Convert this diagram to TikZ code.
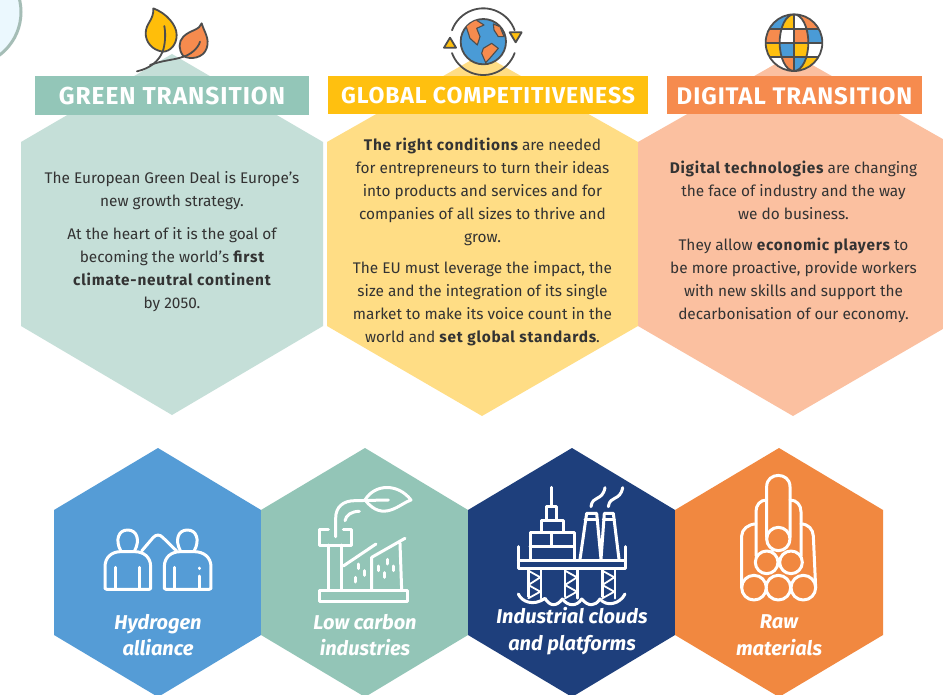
\documentclass[tikz,border=0pt]{standalone}
\usepackage{fontspec}
\setmainfont{Fira Sans}
\newfontfamily\hdfont[LetterSpace=4]{Fira Sans}
\newfontfamily\boldspaced[LetterSpace=5]{Fira Sans}
\newcommand{\kbold}[1]{{\boldspaced\bfseries #1}}
\definecolor{gL}{HTML}{C5DFD8}\definecolor{gD}{HTML}{93C6B8}
\definecolor{yL}{HTML}{FFDD85}\definecolor{yD}{HTML}{FFC00F}
\definecolor{oL}{HTML}{FBC0A0}\definecolor{oD}{HTML}{F68B4E}
\definecolor{bB}{HTML}{559CD6}\definecolor{bG}{HTML}{93C5B7}
\definecolor{bN}{HTML}{1E3F7C}\definecolor{bO}{HTML}{F18840}
\definecolor{ink}{HTML}{4D4D4D}\definecolor{txt}{HTML}{333333}
\definecolor{lf}{HTML}{FFBE0A}\definecolor{wb}{HTML}{4A9BD6}
\tikzset{
  header/.style={text=white,inner sep=0pt},
  para/.style={align=center,text=txt,inner sep=0pt,font=\fontsize{15.4}{23}\selectfont},
  lab/.style={align=center,text=white,inner sep=0pt,font=\bfseries\itshape\fontsize{20}{26.5}\selectfont},
  zoomicon/.style={x=.33333pt,y=-.33333pt},
  wl/.style={draw=white,line width=3pt,line join=round,line cap=round},
  dl/.style={draw=ink,line width=1.8pt,line join=round,line cap=round}
}
\begin{document}
\begin{tikzpicture}[x=1pt,y=-1pt]
\useasboundingbox (0,0) rectangle (943,695);
% corner disc
\fill[white] (0,0) rectangle (943,695);
\draw[fill=cyan!8!white,draw=ink!30!bG!70!white,line width=3pt] (-33,12) circle (54);
% large hexagons
\fill[gL] (172,54)--(323,142)--(323,326)--(172,415)--(21,326)--(21,142)--cycle;
\fill[yL] (482,54)--(638,142)--(638,326)--(482,416)--(327,326)--(327,142)--cycle;
\fill[oL] (793,54)--(948,142)--(948,326)--(793,416)--(638,326)--(638,142)--cycle;
% headers
\fill[gD] (34.5,76) rectangle (309,115);
\fill[yD] (328,76) rectangle (648,114);
\fill[oD] (667,76) rectangle (922,114);
\node[header,font=\hdfont\bfseries\fontsize{24.5}{28}\selectfont] (h1) at (172,96.5) {GREEN TRANSITION};
\node[header,font=\hdfont\bfseries\fontsize{23}{28}\selectfont] (h2) at (488,96) {GLOBAL COMPETITIVENESS};
\node[header,font=\hdfont\bfseries\fontsize{24}{28}\selectfont] (h3) at (794.5,96) {DIGITAL TRANSITION};
% paragraphs
\node[para] (p1) at (172,191) {The European Green Deal is Europe’s\\new growth strategy.};
\node[para] (p2) at (172,269.5) {At the heart of it is the goal of\\becoming the world’s \kbold{first}\\\kbold{climate-neutral continent}\\by 2050.};
\node[para] (p3) at (482.5,191.5) {\kbold{The right conditions} are needed\\for entrepreneurs to turn their ideas\\into products and services and for\\companies of all sizes to thrive and\\grow.};
\node[para] (p4) at (482.5,304) {The EU must leverage the impact, the\\size and the integration of its single\\market to make its voice count in the\\world and \kbold{set global standards}.};
\node[para] (p5) at (793.5,190.5) {\kbold{Digital technologies} are changing\\the face of industry and the way\\we do business.};
\node[para] (p6) at (793.5,280) {They allow \kbold{economic players} to\\be more proactive, provide workers\\with new skills and support the\\decarbonisation of our economy.};
% small hexagons
\fill[bB] (158,448)--(261,510)--(261,635)--(158,697)--(54,635)--(54,510)--cycle;
\fill[bG] (365,448)--(468,510)--(468,635)--(365,697)--(261,635)--(261,510)--cycle;
\fill[bN] (572,448)--(675,510)--(675,635)--(572,697)--(468,635)--(468,510)--cycle;
\fill[bO] (779,448)--(883,510)--(883,635)--(779,697)--(675,635)--(675,510)--cycle;
\node[lab] (l1) at (158,635) {Hydrogen\\alliance};
\node[lab] (l2) at (365,635) {Low carbon\\industries};
\node[lab] (l3) at (572,631) {Industrial clouds\\and platforms};
\node[lab] (l4) at (779,635) {Raw\\materials};
% leaf icon
\begin{scope}[zoomicon]
\draw[dl,fill=lf] (460,25) .. controls (500,40) and (530,75) .. (530,105) .. controls (530,135) and (510,155) .. (488,155) .. controls (455,150) and (437,125) .. (437,100) .. controls (437,70) and (462,60) .. (460,25) -- cycle;
\draw[dl] (493,78) .. controls (498,105) and (495,135) .. (488,155) .. controls (475,185) and (450,205) .. (411,214);
\draw[dl] (450,195) .. controls (490,180) and (525,180) .. (550,170);
\draw[dl,fill=oD] (605,70) .. controls (612,95) and (630,115) .. (620,145) .. controls (610,175) and (570,180) .. (550,168) .. controls (535,150) and (535,125) .. (550,110) .. controls (570,90) and (600,90) .. (605,70) -- cycle;
\draw[dl] (600,125) .. controls (595,145) and (570,165) .. (550,170);
\end{scope}
% rotating globe icon
\begin{scope}[zoomicon,xshift=320pt]
\draw[dl,fill=wb] (490,125) circle (68);
\begin{scope}
\clip (490,125) circle (67);
\draw[dl,fill=oD,line width=1.1pt] (438,78) -- (465,58) -- (492,75) -- (470,85) -- (480,110) -- (472,135) -- (450,115) -- cycle;
\draw[dl,fill=oD,line width=1.1pt] (520,72) -- (540,80) -- (552,110) -- (535,110) -- (522,90) -- cycle;
\draw[dl,fill=oD,line width=1.1pt] (490,145) -- (515,130) -- (535,145) -- (512,172) -- (497,188) -- (485,160) -- cycle;
\end{scope}
\draw[dl] (490,125) ++(160:100) arc[start angle=160,end angle=20,x radius=33.33pt,y radius=-33.33pt];
\draw[dl] (490,125) ++(-20:100) arc[start angle=-20,end angle=-160,x radius=33.33pt,y radius=-33.33pt];
\draw[dl,fill=yD] (372,143) -- (390,113) -- (408,143) -- cycle;
\draw[dl,fill=yD] (569,97) -- (605,97) -- (587,127) -- cycle;
\end{scope}
% grid globe icon
\begin{scope}[zoomicon,xshift=640pt]
\begin{scope}
\clip (462,128) circle (85);
\fill[wb] (370,43) rectangle (462,88);\fill[oD] (370,88) rectangle (462,128);
\fill[yD] (370,128) rectangle (462,170);\fill[white] (370,170) rectangle (462,215);
\fill[oD] (462,43) rectangle (555,88);\fill[wb] (462,88) rectangle (555,128);
\fill[white] (462,128) rectangle (555,170);\fill[yD] (462,170) rectangle (555,215);
\begin{scope}
\clip (462,128) ellipse[x radius=43,y radius=85];
\fill[yD] (415,43) rectangle (462,88);\fill[white] (415,88) rectangle (462,128);
\fill[wb] (415,128) rectangle (462,170);\fill[oD] (415,170) rectangle (462,215);
\fill[white] (462,43) rectangle (510,88);\fill[oD] (462,88) rectangle (510,128);
\fill[yD] (462,128) rectangle (510,170);\fill[wb] (462,170) rectangle (510,215);
\end{scope}
\draw[dl] (370,88) -- (555,88) (370,128) -- (555,128) (370,170) -- (555,170);
\draw[dl] (462,43) -- (462,213);
\draw[dl] (462,128) ellipse[x radius=43,y radius=85];
\end{scope}
\draw[dl] (462,128) circle (85);
\end{scope}
% hydrogen icon
\begin{scope}[zoomicon,xshift=50pt,yshift=-450pt]
\draw[wl] (212,302) .. controls (195,270) and (205,240) .. (233,240) .. controls (261,240) and (271,270) .. (254,302);
\draw[wl] (391,302) .. controls (374,270) and (384,240) .. (412,240) .. controls (440,240) and (450,270) .. (433,302);
\draw[wl] (170,418) -- (165,415) -- (165,350) .. controls (165,322) and (185,305) .. (212,305) -- (254,305) .. controls (282,305) and (302,322) .. (302,350) -- (302,415) -- (298,418) -- cycle;
\draw[wl] (348,418) -- (343,415) -- (343,350) .. controls (343,322) and (363,305) .. (391,305) -- (433,305) .. controls (461,305) and (483,322) .. (483,350) -- (483,415) -- (478,418) -- cycle;
\draw[wl] (197,352) -- (197,418) (270,352) -- (270,418) (375,352) -- (375,418) (450,378) -- (450,418) (450,354) -- (450,356);
\draw[wl] (275,303) -- (310,262) .. controls (318,253) and (330,253) .. (338,262) -- (380,303);
\end{scope}
% factory icon
\begin{scope}[zoomicon,xshift=50pt,yshift=-450pt]
\draw[wl] (835,238) -- (808,238) -- (808,285) -- (905,285) -- (905,238) -- (880,238);
\draw[wl] (835,285) -- (835,420) (875,285) -- (875,420);
\draw[wl] (857,260) -- (857,205) .. controls (857,170) and (880,152) .. (915,152) -- (1015,150);
\draw[wl] (885,212) .. controls (888,195) and (905,184) .. (928,184);
\draw[wl] (945,150) .. controls (975,100) and (1045,100) .. (1083,150) .. controls (1050,160) and (1000,220) .. (945,150) -- cycle;
\draw[wl] (880,348) -- (978,282) (965,420) -- (965,322) -- (1065,265) (1050,280) -- (1055,420);
\draw[wl] (810,420) rectangle (1072,453);
\draw[wl] (925,342) -- (925,356) (945,362) -- (945,376) (917,382) -- (917,396) (985,348) -- (985,362) (1012,328) -- (1012,342) (1030,348) -- (1030,362) (1003,368) -- (1003,382);
\end{scope}
% rig icon
\begin{scope}[zoomicon,xshift=465pt,yshift=-450pt]
\draw[wl] (260,112) -- (260,170);
\draw[wl] (245,170) rectangle (275,210);
\draw[wl] (228,210) rectangle (295,248);
\draw[wl] (195,248) rectangle (328,330);
\draw[wl] (195,288) -- (328,288) (258,248) -- (258,288);
\draw[wl] (160,290) -- (160,355) -- (480,355) -- (480,290) (160,332) -- (480,332);
\draw[wl] (345,328) -- (365,190) -- (395,190) -- (408,328) (408,328) -- (418,190) -- (445,190) -- (462,328);
\draw[wl] (360,208) -- (398,208) (415,208) -- (448,208);
\draw[wl] (378,170) .. controls (382,135) and (412,155) .. (420,113);
\draw[wl] (430,170) .. controls (435,135) and (465,155) .. (473,113);
\foreach \a in {190,300,412}{
 \draw[wl,line width=2.4pt] (\a,355) -- (\a,440) (\a+38,355) -- (\a+38,445);
 \draw[wl,line width=1.8pt] (\a,362) -- (\a+36,382) -- (\a,405) -- (\a+36,425) -- (\a,445);
}
\draw[wl] (160,432) .. controls (170,455) and (205,470) .. (240,445) .. controls (255,470) and (275,470) .. (292,447) .. controls (310,470) and (335,470) .. (350,447) .. controls (370,470) and (390,470) .. (405,447) .. controls (425,472) and (465,462) .. (480,432);
\end{scope}
% pipes icon
\begin{scope}[zoomicon,xshift=465pt,yshift=-450pt]
\draw[wl] (867,413) circle (37) (940,413) circle (37) (1015,413) circle (37) (905,337) circle (34) (978,337) circle (34) (940,267) circle (35);
\draw[wl] (905,262) -- (905,110) .. controls (905,65) and (975,65) .. (975,110) -- (975,262);
\draw[wl] (873,318) -- (873,185) .. controls (873,165) and (885,150) .. (905,150);
\draw[wl] (1008,318) -- (1008,185) .. controls (1008,165) and (995,150) .. (975,150);
\draw[wl] (830,413) -- (830,258) .. controls (830,238) and (850,222) .. (873,222);
\draw[wl] (1052,413) -- (1045,258) .. controls (1044,238) and (1030,222) .. (1008,222);
\end{scope}
\end{tikzpicture}
\end{document}
